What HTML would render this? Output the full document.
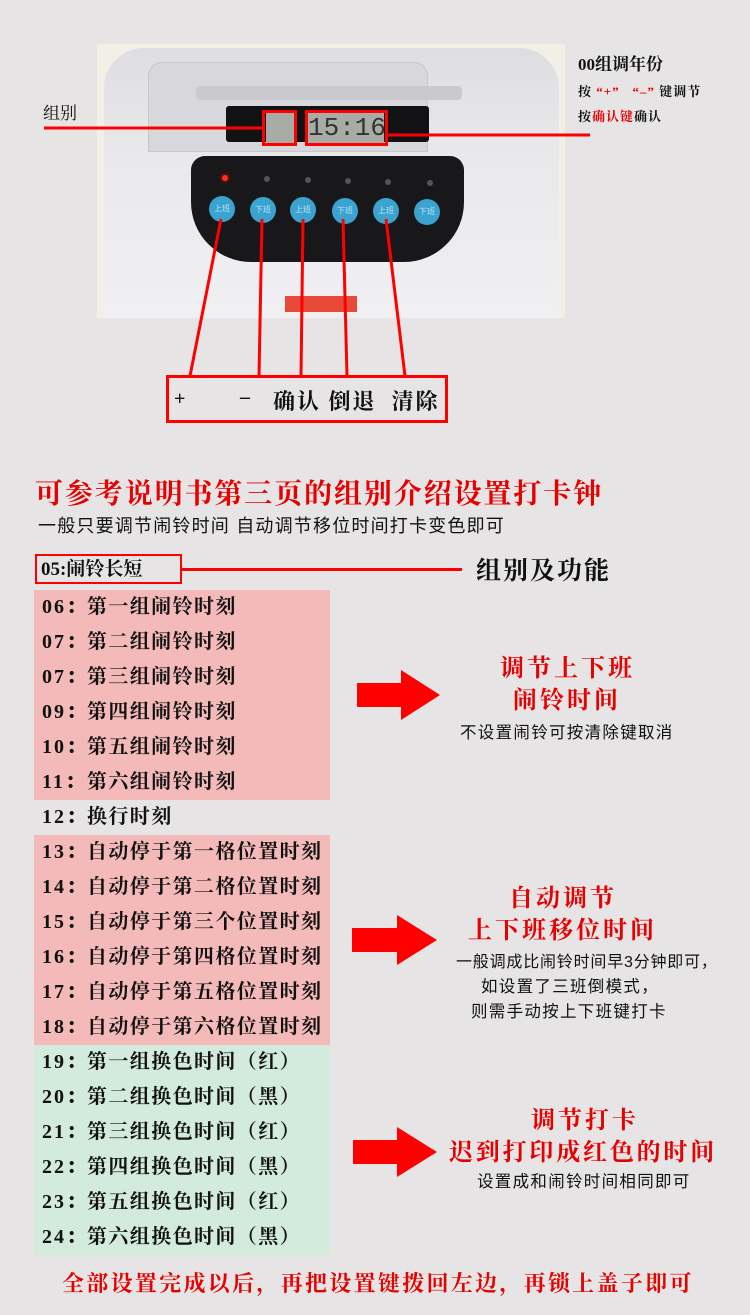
<!DOCTYPE html>
<html><head><meta charset="utf-8"><style>
*{margin:0;padding:0;box-sizing:border-box}
body{width:750px;height:1315px;background:#e6e4e5;position:relative;overflow:hidden;font-family:"Liberation Serif","Noto Serif CJK SC",serif;color:#111}
.a{position:absolute;white-space:nowrap}
.s{font-family:"Liberation Sans","Noto Sans CJK SC",sans-serif}
.sm{font-size:16.5px;letter-spacing:1.3px}
.row{position:absolute;left:34px;width:296px;height:35px;font-size:20px;font-weight:bold;line-height:35px;padding-left:8px;letter-spacing:1.4px}
.row b{display:inline-block;width:45px;letter-spacing:2px}
.p{background:#f4b9b9}.g{background:#d2ebdd}
.btn{position:absolute;width:26px;height:26px;border-radius:50%;background:#3aa3d0;color:#bfe4f2;font-size:8px;line-height:26px;text-align:center;font-family:"Noto Sans CJK SC",sans-serif}
.led{position:absolute;width:6px;height:6px;border-radius:50%;background:#555}
.red{color:#e60000}
</style></head><body>
<div class="a" style="left:97px;top:44px;width:468px;height:274px;background:#f1efe6"></div>
<div class="a" style="left:104px;top:48px;width:455px;height:270px;background:linear-gradient(#dedee2,#e9e9ec 40%,#f0f0f2);border-radius:40px 40px 0 0"></div>
<div class="a" style="left:148px;top:62px;width:280px;height:90px;background:#d8d8dc;border:1px solid #c8c8cc;border-radius:14px 14px 0 0"></div>
<div class="a" style="left:196px;top:86px;width:266px;height:14px;background:#c9c9ce;border-radius:4px"></div>
<div class="a" style="left:226px;top:106px;width:203px;height:36px;background:#121214;border-radius:3px"></div>
<div class="a" style="left:266px;top:113px;width:30px;height:30px;background:#a9aca5"></div>
<div class="a" style="left:308px;top:113px;width:76px;height:30px;background:#a9aca5;font:26px 'Liberation Mono',monospace;line-height:30px;color:#333;text-align:center">15:16</div>
<div class="a" style="left:262px;top:110px;width:35px;height:36px;border:3px solid #f00"></div>
<div class="a" style="left:305px;top:110px;width:83px;height:36px;border:3px solid #f00"></div>
<div class="a" style="left:191px;top:156px;width:273px;height:106px;background:#18181a;border-radius:14px 14px 60px 60px"></div>
<div class="a" style="left:222px;top:175px;width:6px;height:6px;border-radius:50%;background:#ff3020;box-shadow:0 0 4px #f00"></div>
<div class="led" style="left:264px;top:176px"></div><div class="led" style="left:305px;top:177px"></div>
<div class="led" style="left:345px;top:178px"></div><div class="led" style="left:385px;top:179px"></div><div class="led" style="left:427px;top:180px"></div>
<div class="btn" style="left:209px;top:196px">上班</div><div class="btn" style="left:250px;top:197px">下班</div>
<div class="btn" style="left:290px;top:197px">上班</div><div class="btn" style="left:332px;top:198px">下班</div>
<div class="btn" style="left:373px;top:198px">上班</div><div class="btn" style="left:414px;top:199px">下班</div>
<div class="a" style="left:285px;top:296px;width:72px;height:16px;background:#e84a3a"></div>
<svg class="a" style="left:0;top:0" width="750" height="440">
<g stroke="#f00" stroke-width="3" fill="none">
<line x1="44" y1="128" x2="263" y2="128"/><line x1="388" y1="135" x2="590" y2="135"/>
<line x1="221" y1="219" x2="190" y2="376"/><line x1="262" y1="219" x2="259" y2="376"/>
<line x1="303" y1="219" x2="301" y2="376"/><line x1="343" y1="219" x2="347" y2="376"/>
<line x1="386" y1="219" x2="405" y2="376"/>
</g></svg>
<div class="a" style="left:43px;top:99px;font-size:17px">组别</div>
<div class="a" style="left:578px;top:50px;font-size:17px;font-weight:bold">00组调年份</div>
<div class="a" style="left:578px;top:81px;font-size:13px;font-weight:bold;letter-spacing:1px">按&nbsp;<span class="red">“+”&nbsp;&nbsp;&nbsp;“–”</span>&nbsp;键调节</div>
<div class="a" style="left:578px;top:106px;font-size:13px;font-weight:bold;letter-spacing:1px">按<span class="red">确认键</span>确认</div>
<div class="a" style="left:166px;top:375px;width:282px;height:48px;border:3px solid #f00"></div>
<div class="a" style="left:174px;top:388px;font-size:20px;font-weight:bold">+</div>
<div class="a" style="left:240px;top:386px;font-size:20px;font-weight:bold">–</div>
<div class="a" style="left:273px;top:385px;font-size:22px;font-weight:bold;letter-spacing:2px">确认 倒退&nbsp; 清除</div>
<div class="a red" style="left:35px;top:472px;font-size:28px;font-weight:bold;letter-spacing:1.9px">可参考说明书第三页的组别介绍设置打卡钟</div>
<div class="a s" style="left:38px;top:512px;font-size:18px;letter-spacing:1.2px">一般只要调节闹铃时间 自动调节移位时间打卡变色即可</div>
<div class="a" style="left:35px;top:554px;width:147px;height:30px;border:2px solid #f00;font-size:19px;font-weight:bold;line-height:27px;padding-left:4px">05:闹铃长短</div>
<div class="a" style="left:182px;top:568px;width:280px;height:3px;background:#f00"></div>
<div class="a" style="left:476px;top:551px;font-size:25px;font-weight:bold;letter-spacing:2px">组别及功能</div>
<div class="row p" style="top:590px"><b>06：</b>第一组闹铃时刻</div>
<div class="row p" style="top:625px"><b>07：</b>第二组闹铃时刻</div>
<div class="row p" style="top:660px"><b>07：</b>第三组闹铃时刻</div>
<div class="row p" style="top:695px"><b>09：</b>第四组闹铃时刻</div>
<div class="row p" style="top:730px"><b>10：</b>第五组闹铃时刻</div>
<div class="row p" style="top:765px"><b>11：</b>第六组闹铃时刻</div>
<div class="row" style="top:800px"><b>12：</b>换行时刻</div>
<div class="row p" style="top:835px"><b>13：</b>自动停于第一格位置时刻</div>
<div class="row p" style="top:870px"><b>14：</b>自动停于第二格位置时刻</div>
<div class="row p" style="top:905px"><b>15：</b>自动停于第三个位置时刻</div>
<div class="row p" style="top:940px"><b>16：</b>自动停于第四格位置时刻</div>
<div class="row p" style="top:975px"><b>17：</b>自动停于第五格位置时刻</div>
<div class="row p" style="top:1010px"><b>18：</b>自动停于第六格位置时刻</div>
<div class="row g" style="top:1045px"><b>19：</b>第一组换色时间（红）</div>
<div class="row g" style="top:1080px"><b>20：</b>第二组换色时间（黑）</div>
<div class="row g" style="top:1115px"><b>21：</b>第三组换色时间（红）</div>
<div class="row g" style="top:1150px"><b>22：</b>第四组换色时间（黑）</div>
<div class="row g" style="top:1185px"><b>23：</b>第五组换色时间（红）</div>
<div class="row g" style="top:1220px"><b>24：</b>第六组换色时间（黑）</div>
<svg class="a" style="left:0;top:0" width="750" height="1315">
<polygon fill="#f00" points="357,683 401,683 401,670 440,695 401,720 401,707 357,707"/>
<polygon fill="#f00" points="352,928 397,928 397,915 437,940 397,965 397,952 352,952"/>
<polygon fill="#f00" points="353,1140 397,1140 397,1127 437,1152 397,1177 397,1164 353,1164"/>
</svg>
<div class="a red" style="left:500px;top:648px;font-size:24px;font-weight:bold;letter-spacing:3px">调节上下班</div>
<div class="a red" style="left:513px;top:680px;font-size:24px;font-weight:bold;letter-spacing:3px">闹铃时间</div>
<div class="a s sm" style="left:460px;top:719px">不设置闹铃可按清除键取消</div>
<div class="a red" style="left:509px;top:878px;font-size:24px;font-weight:bold;letter-spacing:3px">自动调节</div>
<div class="a red" style="left:468px;top:910px;font-size:24px;font-weight:bold;letter-spacing:3px">上下班移位时间</div>
<div class="a s" style="left:456px;top:948px;font-size:16px;letter-spacing:0.8px">一般调成比闹铃时间早3分钟即可，</div>
<div class="a s sm" style="left:481px;top:973px">如设置了三班倒模式，</div>
<div class="a s sm" style="left:471px;top:998px">则需手动按上下班键打卡</div>
<div class="a red" style="left:531px;top:1100px;font-size:24px;font-weight:bold;letter-spacing:3px">调节打卡</div>
<div class="a red" style="left:449px;top:1132px;font-size:24px;font-weight:bold;letter-spacing:2.8px">迟到打印成红色的时间</div>
<div class="a s sm" style="left:477px;top:1168px">设置成和闹铃时间相同即可</div>
<div class="a red" style="left:62px;top:1267px;font-size:22px;font-weight:bold;letter-spacing:2.3px">全部设置完成以后，再把设置键拨回左边，再锁上盖子即可</div>
</body></html>
